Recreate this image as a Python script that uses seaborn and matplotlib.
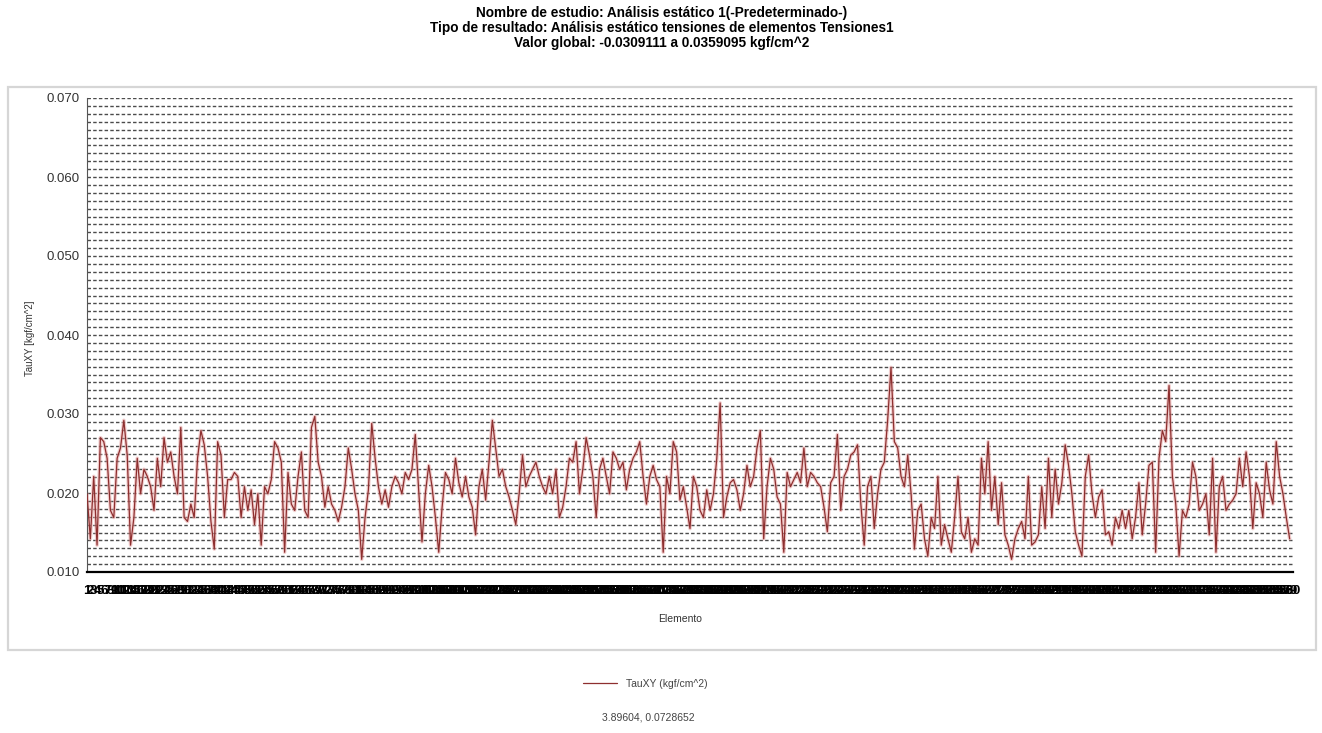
import numpy as np
import pandas as pd
import matplotlib
matplotlib.use("Agg")
import matplotlib.pyplot as plt
import seaborn as sns
from matplotlib.patches import Rectangle

# ---------------- data (TauXY per element, kgf/cm^2) ----------------
tau_part1 = [0.0199, 0.0142, 0.0221, 0.0134, 0.0270, 0.0265, 0.0244, 0.0178, 0.0169, 0.0244,
             0.0257, 0.0292, 0.0248, 0.0134, 0.0169, 0.0244, 0.0199, 0.0230, 0.0221, 0.0208,
             0.0178, 0.0244, 0.0208, 0.0270, 0.0239, 0.0252, 0.0221, 0.0199, 0.0283, 0.0169,
             0.0164, 0.0186, 0.0169, 0.0244, 0.0279, 0.0261, 0.0221, 0.0164, 0.0129, 0.0265,
             0.0248, 0.0169, 0.0217, 0.0217, 0.0226, 0.0221, 0.0169, 0.0208, 0.0178, 0.0204,
             0.0160, 0.0199, 0.0134, 0.0208, 0.0199, 0.0217, 0.0265, 0.0257, 0.0239, 0.0125,
             0.0226, 0.0186, 0.0178]
tau_part2 = [0.0221, 0.0252, 0.0178, 0.0169, 0.0283, 0.0297, 0.0239, 0.0221, 0.0182, 0.0208,
             0.0186, 0.0178, 0.0164, 0.0182, 0.0208, 0.0257, 0.0230, 0.0199, 0.0178, 0.0116,
             0.0169, 0.0204, 0.0288, 0.0244, 0.0208, 0.0186, 0.0204, 0.0182, 0.0208, 0.0221,
             0.0213, 0.0199, 0.0226, 0.0217, 0.0230, 0.0274, 0.0204, 0.0138, 0.0199, 0.0235,
             0.0208, 0.0169, 0.0125, 0.0182, 0.0226, 0.0217, 0.0199, 0.0244, 0.0213, 0.0195,
             0.0221, 0.0195, 0.0182, 0.0147, 0.0208, 0.0230, 0.0191, 0.0239, 0.0292, 0.0257,
             0.0221, 0.0230]
tau_part3 = [0.0208, 0.0195, 0.0178, 0.0160, 0.0199, 0.0248, 0.0208, 0.0221, 0.0230, 0.0239,
             0.0221, 0.0208, 0.0199, 0.0221, 0.0199, 0.0230, 0.0169, 0.0182, 0.0208, 0.0244,
             0.0239, 0.0265, 0.0199, 0.0230, 0.0270, 0.0248, 0.0221, 0.0169, 0.0230, 0.0244,
             0.0221, 0.0199, 0.0252, 0.0244, 0.0230, 0.0239, 0.0204, 0.0230, 0.0244, 0.0252,
             0.0265, 0.0221, 0.0186, 0.0221, 0.0235, 0.0217, 0.0208, 0.0125, 0.0221, 0.0199,
             0.0265, 0.0252, 0.0191, 0.0208, 0.0182, 0.0155, 0.0221, 0.0208, 0.0178, 0.0169,
             0.0204, 0.0178]
tau_part4 = [0.0199, 0.0244, 0.0314, 0.0169, 0.0195, 0.0213, 0.0217, 0.0204, 0.0178, 0.0199,
             0.0235, 0.0208, 0.0221, 0.0257, 0.0279, 0.0142, 0.0208, 0.0244, 0.0230, 0.0195,
             0.0186, 0.0125, 0.0226, 0.0208, 0.0217, 0.0226, 0.0213, 0.0257, 0.0208, 0.0226,
             0.0221, 0.0213, 0.0208, 0.0182, 0.0151, 0.0213, 0.0221, 0.0274, 0.0178, 0.0221,
             0.0230, 0.0248, 0.0252, 0.0261, 0.0186, 0.0134, 0.0208, 0.0221, 0.0155, 0.0199,
             0.0230, 0.0239, 0.0292, 0.0359, 0.0265, 0.0257, 0.0221, 0.0208, 0.0248, 0.0199,
             0.0129, 0.0178]
tau_part5 = [0.0186, 0.0142, 0.0120, 0.0169, 0.0155, 0.0221, 0.0134, 0.0160, 0.0142, 0.0125,
             0.0169, 0.0221, 0.0151, 0.0142, 0.0169, 0.0125, 0.0142, 0.0134, 0.0244, 0.0199,
             0.0265, 0.0178, 0.0221, 0.0160, 0.0213, 0.0147, 0.0134, 0.0116, 0.0142, 0.0155,
             0.0164, 0.0142, 0.0221, 0.0134, 0.0138, 0.0147, 0.0208, 0.0155, 0.0244, 0.0169,
             0.0230, 0.0186, 0.0213, 0.0261, 0.0235, 0.0199, 0.0151, 0.0134, 0.0120, 0.0221,
             0.0248, 0.0199, 0.0169, 0.0195, 0.0204, 0.0147, 0.0151, 0.0134, 0.0169, 0.0155,
             0.0178, 0.0155]
tau_part6 = [0.0178, 0.0142, 0.0169, 0.0213, 0.0147, 0.0186, 0.0235, 0.0239, 0.0125, 0.0244,
             0.0279, 0.0265, 0.0336, 0.0221, 0.0186, 0.0120, 0.0178, 0.0169, 0.0186, 0.0239,
             0.0221, 0.0178, 0.0186, 0.0199, 0.0147, 0.0244, 0.0125, 0.0208, 0.0221, 0.0178,
             0.0186, 0.0191, 0.0199, 0.0244, 0.0208, 0.0252, 0.0221, 0.0155, 0.0213, 0.0199,
             0.0169, 0.0239, 0.0204, 0.0186, 0.0265, 0.0221, 0.0199, 0.0169, 0.0142]

tau_values = tau_part1 + tau_part2 + tau_part3 + tau_part4 + tau_part5 + tau_part6
elements = list(range(1, len(tau_values) + 1))

y_ticks = [0.010, 0.020, 0.030, 0.040, 0.050, 0.060, 0.070]
y_tick_labels = ["0.010", "0.020", "0.030", "0.040", "0.050", "0.060", "0.070"]

title_lines = ["Nombre de estudio: Análisis estático 1(-Predeterminado-)",
               "Tipo de resultado: Análisis estático tensiones de elementos Tensiones1",
               "Valor global: -0.0309111 a 0.0359095 kgf/cm^2"]
series_label = "TauXY (kgf/cm^2)"
y_label = "TauXY [kgf/cm^2]"
x_label = "Elemento"
cursor_text = "3.89604, 0.0728652"

df = pd.DataFrame({"Elemento": elements, "TauXY": tau_values})

# ---------------- figure ----------------
sns.set_style("white")
plt.rcParams["font.family"] = ["Liberation Sans", "DejaVu Sans"]

W, H = 1322, 733
fig = plt.figure(figsize=(W / 100, H / 100), dpi=100)
fig.patch.set_facecolor("white")

def fx(px):
    return px / W

def fy(py):
    return 1 - py / H

# outer light frame of the chart area
fig.patches.append(Rectangle((fx(8), fy(650)), fx(1316) - fx(8), fy(87) - fy(650),
                             transform=fig.transFigure, fill=False,
                             edgecolor="#d6d6d6", lw=1.6))

ax_left, ax_right, ax_top, ax_bottom = 87, 1293, 98, 572
ax = fig.add_axes([fx(ax_left), fy(ax_bottom), fx(ax_right) - fx(ax_left), fy(ax_top) - fy(ax_bottom)])
ax.set_facecolor("white")

# dense horizontal dotted grid every 0.001
minor_grid = np.round(np.arange(0.010, 0.0705, 0.001), 4)
for gv in minor_grid:
    ax.axhline(gv, color="#1e1e1e", lw=1.0, ls=(0, (2.5, 1.6)), alpha=0.8, zorder=1)

# pale halo + dark line (same series)
sns.lineplot(data=df, x="Elemento", y="TauXY", ax=ax, color="#e9a7a7", lw=2.6,
             alpha=0.55, zorder=2, legend=False)
sns.lineplot(data=df, x="Elemento", y="TauXY", ax=ax, color="#8e2f2f", lw=0.9,
             label=series_label, zorder=3)

ax.set_xlim(elements[0], elements[-1] + 1)
ax.set_ylim(0.010, 0.070)

ax.set_yticks(y_ticks)
ax.set_yticklabels(y_tick_labels, fontsize=9.5, color="#333333")
ax.set_yticks(np.round(np.arange(0.015, 0.070, 0.010), 4), minor=True)
ax.tick_params(axis="y", which="major", length=4, width=0.8, color="#444444", pad=1)
ax.tick_params(axis="y", which="minor", length=3, width=0.8, color="#444444")

ax.set_xticks(elements)
ax.set_xticklabels([str(e) for e in elements], fontsize=9.5, fontweight="bold", color="black")
ax.tick_params(axis="x", which="major", length=4, width=1.0, color="black", pad=5)

ax.set_xlabel("")
ax.set_ylabel("")
for side in ["top", "right"]:
    ax.spines[side].set_visible(False)
ax.spines["left"].set_color("#555555")
ax.spines["left"].set_linewidth(0.8)
ax.spines["left"].set_linestyle((0, (2, 1)))
ax.spines["bottom"].set_color("black")
ax.spines["bottom"].set_linewidth(1.6)
ax.spines["bottom"].set_linestyle((0, (3, 1)))

# titles
for i, line in enumerate(title_lines):
    fig.text(fx(662), fy(13 + 15 * i), line, ha="center", va="center",
             fontsize=9.8, fontweight="bold", color="black")

fig.text(fx(30), fy(338), y_label, rotation=90, ha="center", va="center",
         fontsize=7, color="#333333")
fig.text(fx(680), fy(619), x_label, ha="center", va="center",
         fontsize=7.5, color="#333333")

leg = ax.legend(loc="center", bbox_to_anchor=(fx(645), fy(684)),
                bbox_transform=fig.transFigure, frameon=False,
                handlelength=3.3, fontsize=7.5)
for t in leg.get_texts():
    t.set_color("#444444")

fig.text(fx(648), fy(717), cursor_text, ha="center", va="center",
         fontsize=7.5, color="#444444")

fig.savefig("out.png", dpi=100, facecolor="white")
